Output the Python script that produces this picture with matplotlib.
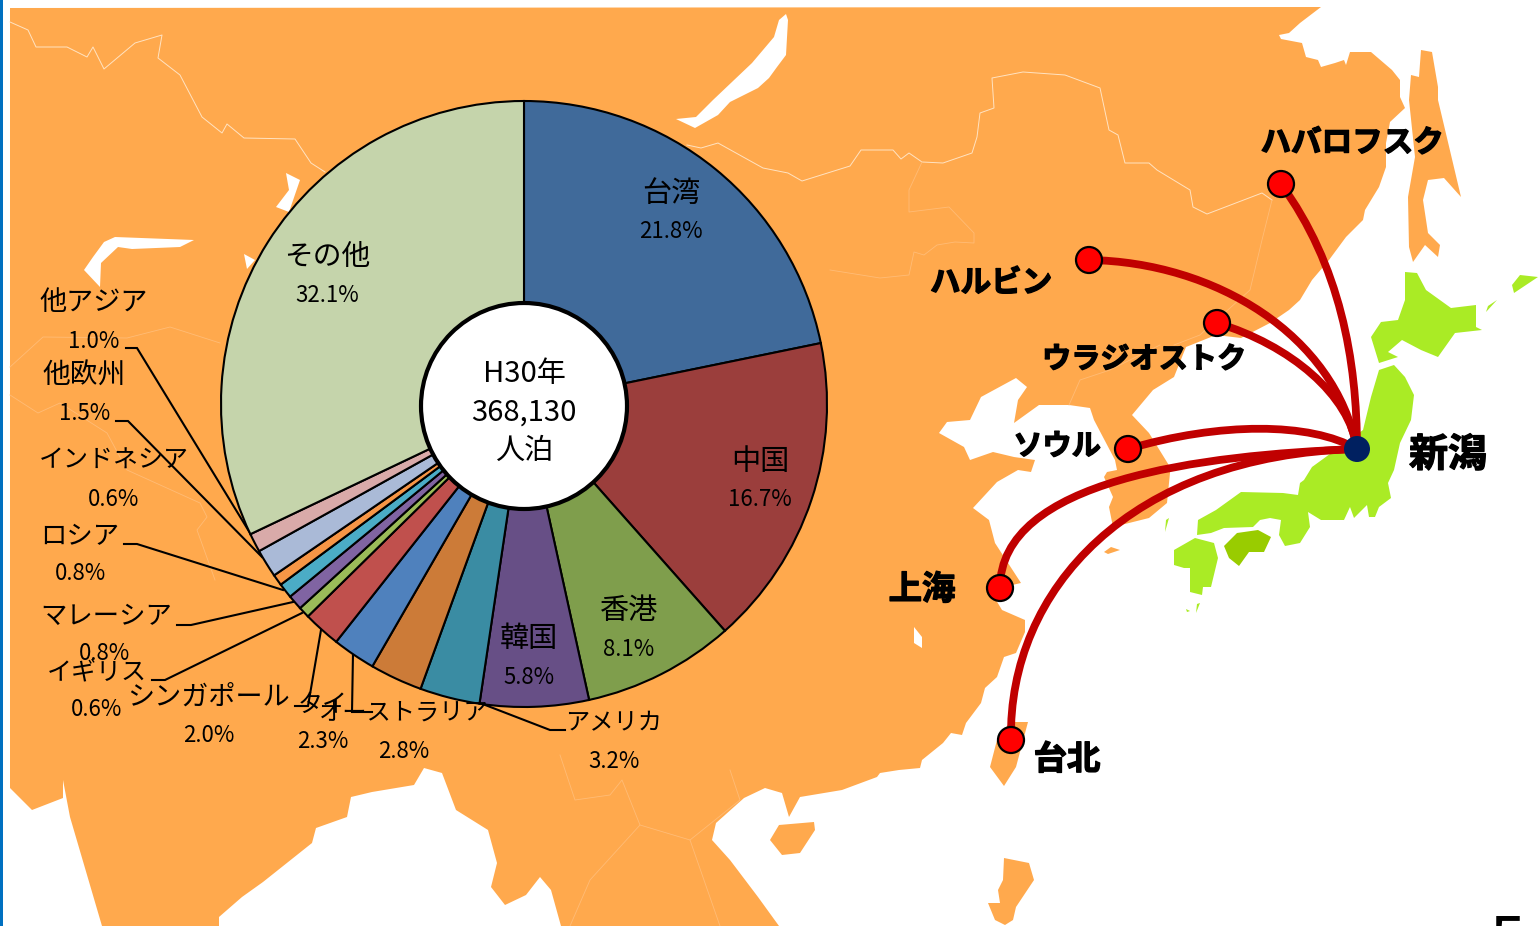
import matplotlib
matplotlib.use("Agg")
import matplotlib.pyplot as plt
from matplotlib.patches import Polygon, PathPatch, Circle, Rectangle
from matplotlib.path import Path
import matplotlib.patheffects as pe

W, H = 1538, 926
plt.rcParams['font.family'] = ['Noto Sans CJK JP', 'DejaVu Sans']

# ---------- data ----------
categories = ['台湾', '中国', '香港', '韓国', 'アメリカ', 'オーストラリア', 'タイ', 'シンガポール',
              'イギリス', 'マレーシア', 'ロシア', 'インドネシア', '他欧州', '他アジア', 'その他']
values = [21.8, 16.7, 8.1, 5.8, 3.2, 2.8, 2.3, 2.0, 0.6, 0.8, 0.8, 0.6, 1.5, 1.0, 32.1]
colors = ['#406A9A', '#9B3E3C', '#7F9E4C', '#674F86', '#3A8CA3', '#CC7B38', '#4F81BD', '#C0504D',
          '#9BBB59', '#8064A2', '#4BACC6', '#F79646', '#AABAD7', '#D9AAA9', '#C5D4AB']
label_pos = [(671, 192), (760, 460), (629, 609), (529, 637), (614, 721), (404, 711), (323, 703), (209, 695),
             (97, 670), (106, 614), (80, 535), (114, 459), (84, 374), (94, 301), (327, 255)]
label_size = [21, 21, 21, 21, 17.5, 17.5, 18, 19.5, 18, 19, 19, 18, 20, 19.5, 20.7]
value_pos = [(671, 230), (760, 498), (629, 647), (529, 675), (614, 759), (404, 749), (323, 740), (209, 733),
             (97, 708), (105, 652), (80, 572), (114, 497), (85, 411), (94, 339), (327, 293)]
center_lines = ['H30年', '368,130', '人泊']
center_y = [372, 411, 449]
leaders = [
    [(565, 730), (550, 730), (480, 703)],
    [(372, 712), (352, 712), (353, 653)],
    [(295, 706), (308, 706), (321, 630)],
    [(152, 680), (165, 680), (302, 613)],
    [(177, 625), (191, 625), (293, 602)],
    [(124, 544), (137, 544), (283, 590)],
    [(116, 421), (128, 421), (262, 557)],
    [(126, 348), (137, 348), (250, 533)],
]

hub = (1357, 449)
cities = ['ハバロフスク', 'ハルビン', 'ウラジオストク', 'ソウル', '上海', '台北']
city_xy = [(1281, 184), (1089, 260), (1217, 323), (1128, 449), (1000, 588), (1011, 740)]
city_ctrl = [((1340, 265), (1357, 360)), ((1215, 262), (1335, 335)), ((1290, 345), (1350, 395)),
             ((1220, 422), (1310, 422)), ((1000, 480), (1200, 455)), ((1008, 590), (1130, 455))]
city_label = [(1352, 141, 22), (991, 281, 22), (1144, 357, 21), (1057, 444, 21), (922, 588, 24), (1067, 758, 24)]

mainland = [(10, 8), (1321, 7), (1300, 23), (1289, 33), (1279, 35), (1281, 39), (1302, 43), (1306, 57), (1318, 60),
            (1321, 67), (1335, 63), (1344, 60), (1346, 65), (1350, 52), (1371, 52), (1392, 70), (1400, 80), (1400, 97),
            (1405, 108), (1390, 122), (1386, 143), (1386, 167), (1379, 187), (1365, 210), (1363, 220), (1346, 237),
            (1329, 260), (1312, 280), (1300, 300), (1289, 310), (1270, 323), (1241, 338), (1216, 335), (1186, 347),
            (1174, 377), (1153, 390), (1132, 415), (1149, 433), (1170, 467), (1170, 473), (1167, 503), (1149, 518),
            (1113, 527), (1109, 507), (1113, 497), (1104, 477), (1107, 472), (1117, 470), (1115, 460), (1094, 420),
            (1090, 408), (1069, 405), (1039, 405), (1014, 423), (1018, 400), (1027, 387), (1016, 378), (981, 397),
            (970, 420), (947, 422), (939, 433), (964, 447), (970, 460), (993, 452), (1014, 457), (1035, 460),
            (1031, 472), (1018, 470), (997, 482), (973, 508), (989, 520), (995, 543), (1021, 583), (990, 590),
            (1002, 610), (1025, 620), (1025, 632), (1016, 653), (1004, 657), (997, 677), (985, 688), (981, 703),
            (966, 723), (962, 735), (951, 733), (943, 743), (922, 760), (920, 768), (899, 770), (880, 773), (877, 777),
            (842, 790), (800, 797), (789, 817), (782, 793), (765, 788), (744, 798), (716, 823), (712, 840), (730, 860),
            (758, 897), (779, 926), (561, 926), (551, 890), (540, 877), (526, 895), (505, 905), (491, 887), (497, 863),
            (488, 830), (456, 810), (442, 773), (424, 768), (414, 785), (372, 792), (351, 797), (347, 817), (316, 828),
            (312, 843), (263, 882), (242, 897), (219, 917), (219, 926), (102, 926), (70, 817), (63, 780), (63, 798),
            (32, 810), (10, 788)]
orange_islands = [
    [(1010, 722), (1028, 722), (1016, 767), (1004, 786), (990, 767), (997, 740)],
    [(779, 825), (814, 822), (815, 830), (800, 853), (782, 855), (770, 840)],
    [(1004, 858), (1029, 863), (1034, 880), (1016, 907), (1013, 920), (1005, 925), (995, 920), (988, 903), (1000, 903),
     (998, 890), (1003, 880)],
    [(1421, 50), (1432, 52), (1438, 87), (1438, 100), (1461, 197), (1444, 178), (1428, 180), (1423, 200), (1428, 233),
     (1440, 245), (1438, 257), (1425, 245), (1413, 262), (1409, 247), (1408, 197), (1415, 157), (1409, 100),
     (1411, 75), (1419, 77)],
    [(1104, 552), (1111, 547), (1120, 550), (1108, 554)],
]
lakes = [
    [(786, 14), (788, 20), (786, 55), (777, 67), (769, 78), (758, 88), (730, 102), (718, 115), (695, 128), (676, 119),
     (696, 117), (713, 100), (752, 63), (774, 37), (779, 20)],
    [(115, 237), (194, 240), (180, 247), (132, 249), (118, 247), (101, 263), (100, 287), (84, 270), (93, 257), (104, 242)],
    [(286, 173), (300, 180), (289, 212), (276, 207), (289, 190)],
    [(244, 254), (255, 260), (247, 269)],
    [(914, 627), (922, 637), (922, 648), (914, 643)],
]
japan = [
    [(1405, 272), (1417, 273), (1426, 290), (1451, 308), (1476, 305), (1476, 327), (1482, 330), (1455, 333), (1438, 357),
     (1421, 350), (1402, 340), (1388, 352), (1398, 357), (1379, 363), (1371, 337), (1381, 322), (1398, 320), (1405, 300)],
    [(1379, 370), (1394, 365), (1405, 377), (1414, 395), (1411, 420), (1400, 443), (1394, 470), (1388, 483), (1391, 498),
     (1379, 507), (1375, 517), (1369, 517), (1367, 505), (1354, 518), (1350, 507), (1344, 520), (1321, 520), (1308, 512),
     (1310, 527), (1300, 543), (1285, 546), (1279, 535), (1281, 520), (1270, 518), (1260, 520), (1253, 527), (1224, 528),
     (1211, 533), (1197, 535), (1198, 520), (1216, 510), (1241, 492), (1283, 493), (1298, 495), (1300, 483), (1304, 480),
     (1312, 467), (1363, 430), (1371, 397)],
    [(1174, 550), (1195, 538), (1214, 543), (1218, 558), (1211, 587), (1203, 587), (1202, 595), (1190, 592), (1190, 568),
     (1184, 568), (1174, 565)],
    [(1169, 518), (1165, 532), (1166, 520)],
    [(1200, 603), (1196, 613), (1197, 604)],
    [(1186, 609), (1190, 611), (1187, 612)],
    [(1497, 300), (1486, 312), (1488, 306)],
    [(1514, 293), (1538, 277), (1520, 275), (1512, 285)],
]
shikoku = [(1224, 546), (1237, 533), (1258, 530), (1271, 537), (1264, 552), (1249, 552), (1239, 566), (1229, 558)]
borders = [
    [(10, 22), (28, 30), (36, 47), (67, 47), (87, 57), (93, 47), (104, 69), (135, 43), (162, 35), (158, 58), (180, 75),
     (202, 117), (222, 133), (227, 124), (244, 138), (295, 139), (311, 163), (325, 172)],
    [(687, 145), (701, 148), (718, 143), (763, 168), (788, 173), (802, 181), (850, 166), (861, 150), (893, 150),
     (901, 159), (909, 153), (922, 162), (943, 163), (972, 153), (977, 137), (980, 113), (994, 108), (992, 78),
     (1023, 72), (1065, 75), (1100, 88), (1109, 130), (1118, 135), (1125, 163), (1149, 163), (1157, 170), (1190, 190),
     (1193, 207), (1207, 214), (1262, 193), (1272, 200)],
]
faint_borders = [
    [(922, 162), (909, 190), (909, 212), (949, 207), (974, 233), (974, 243), (955, 242), (937, 245), (924, 255),
     (914, 252), (909, 275), (880, 278), (830, 270)],
    [(220, 343), (170, 327), (127, 338), (43, 337), (10, 367)],
    [(10, 395), (38, 413), (60, 403), (107, 433), (127, 470), (200, 503), (207, 517), (197, 530), (215, 580)],
    [(1272, 200), (1262, 240), (1250, 290), (1200, 335), (1174, 345)],
    [(560, 755), (575, 800), (610, 795), (622, 780), (640, 825), (590, 880), (570, 926)],
    [(640, 825), (690, 840), (740, 800), (730, 770)],
    [(690, 840), (720, 926)],
    [(1069, 405), (1080, 380), (1110, 370), (1160, 345)],
]


def Y(y):
    return H - y


def TY(y):
    return H - y - 2


def flip(pts):
    return [(x, Y(y)) for x, y in pts]


fig = plt.figure(figsize=(W / 100, H / 100), dpi=100, facecolor='white')
ax = fig.add_axes([0, 0, 1, 1])

ORANGE = '#FFA94D'
GREEN = '#AAEB25'

ax.add_patch(Polygon(flip(mainland), closed=True, fc=ORANGE, ec='none', zorder=1))
for p in orange_islands:
    ax.add_patch(Polygon(flip(p), closed=True, fc=ORANGE, ec='none', zorder=1))
for p in lakes:
    ax.add_patch(Polygon(flip(p), closed=True, fc='white', ec='none', zorder=1.2))
for p in japan:
    ax.add_patch(Polygon(flip(p), closed=True, fc=GREEN, ec='none', zorder=1))
ax.add_patch(Polygon(flip(shikoku), closed=True, fc='#99CC00', ec='none', zorder=1.1))
for b in borders:
    xs, ys = zip(*flip(b))
    ax.plot(xs, ys, color='#FFE3C2', lw=0.7, zorder=1.3)
for b in faint_borders:
    xs, ys = zip(*flip(b))
    ax.plot(xs, ys, color='#FFBC76', lw=0.6, zorder=1.3)

# pie
cx, cy, R, r_hole = 524, 404, 303, 103
wedges, _ = ax.pie(values, colors=colors, startangle=90, counterclock=False, center=(cx, Y(cy)), radius=R,
                   wedgeprops=dict(edgecolor='black', linewidth=1.5), frame=False)
for w in wedges:
    w.set_zorder(3)
ax.add_patch(Circle((cx, Y(406)), r_hole, fc='white', ec='black', lw=3, zorder=4))

for seg in leaders:
    xs, ys = zip(*flip(seg))
    ax.plot(xs, ys, color='black', lw=1.5, zorder=2.5, solid_joinstyle='miter')

for name, v, (lx, ly), fs, (vx, vy) in zip(categories, values, label_pos, label_size, value_pos):
    ax.text(lx, TY(ly), name, ha='center', va='center', fontsize=fs, color='black', zorder=6)
    ax.text(vx, TY(vy), f'{v:.1f}%', ha='center', va='center', fontsize=16, color='black', zorder=6)
for line, ly in zip(center_lines, center_y):
    ax.text(cx, TY(ly), line, ha='center', va='center', fontsize=21, color='black', zorder=6)

# routes
for (sx, sy), (c1, c2) in zip(city_xy, city_ctrl):
    path = Path(flip([(sx, sy), c1, c2, hub]), [Path.MOVETO, Path.CURVE4, Path.CURVE4, Path.CURVE4])
    ax.add_patch(PathPatch(path, fc='none', ec='#C00000', lw=5.6, capstyle='butt', zorder=7))
for (sx, sy) in city_xy:
    ax.add_patch(Circle((sx, Y(sy)), 13, fc='#FF0000', ec='black', lw=1.6, zorder=8))
ax.add_patch(Circle((hub[0], Y(hub[1])), 13, fc='#002060', ec='none', zorder=8))

stroke = [pe.withStroke(linewidth=1.0, foreground='black')]
for name, (lx, ly, fs) in zip(cities, city_label):
    ax.text(lx, TY(ly), name, ha='center', va='center', fontsize=fs, fontweight='bold', color='black',
            zorder=9, path_effects=stroke)
ax.text(1448, TY(453), '新潟', ha='center', va='center', fontsize=28, fontweight='bold', color='black',
        zorder=9, path_effects=stroke)

# slide frame remnants
ax.add_patch(Rectangle((0, 0), 2.5, H, fc='#0070C0', ec='none', zorder=10))
ax.text(1507, Y(912), '5', ha='center', va='top', fontsize=46, color='black', zorder=10, clip_on=True)

ax.set_xlim(0, W)
ax.set_ylim(0, H)
ax.set_aspect('auto')
ax.axis('off')
fig.savefig('out.png', dpi=100, facecolor='white')
